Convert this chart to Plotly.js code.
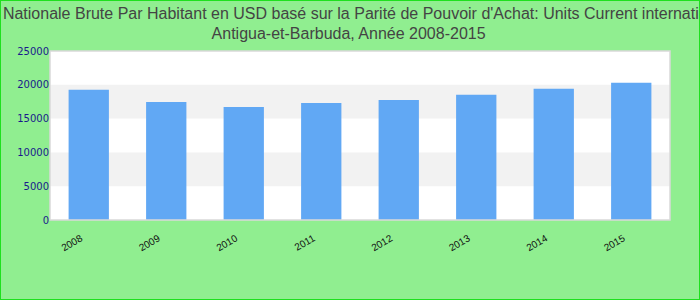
<!DOCTYPE html>
<html><head><meta charset="utf-8">
<script src="https://cdn.plot.ly/plotly-3.0.1.min.js"></script>
<style>
html,body{margin:0;padding:0;background:#90EE90;}
#wrap{width:698px;height:298px;border:1px solid #1ee01e;position:relative;overflow:hidden;}
#chart{width:700px;height:300px;position:absolute;left:-1px;top:-1px;}
</style></head><body>
<div id="wrap"><div id="chart"></div></div>
<script>
const years = ['2008','2009','2010','2011','2012','2013','2014','2015'];
const values = [19250, 17460, 16720, 17310, 17760, 18510, 19400, 20300];
const yTicks = [0, 5000, 10000, 15000, 20000, 25000];
const bands = [[5000,10000],[15000,20000]];

const shapes = bands.map(b => ({type:'rect', xref:'x domain', yref:'y', x0:0, x1:1, y0:b[0], y1:b[1],
  fillcolor:'#f2f2f2', line:{width:0}, layer:'below'}));
shapes.push({type:'rect', xref:'x domain', yref:'y domain', x0:0, x1:1, y0:0, y1:1,
  line:{color:'#d9d9d9', width:1.5}, fillcolor:'rgba(0,0,0,0)'});

Plotly.newPlot('chart', [{
  type:'bar', x:years, y:values, marker:{color:'#61a8f4'}, width:0.52, hoverinfo:'x+y'
}], {
  width:700, height:300,
  paper_bgcolor:'#90EE90', plot_bgcolor:'#ffffff',
  margin:{l:50, r:30, t:51, b:80},
  title:{text:"Production Nationale Brute Par Habitant en USD basé sur la Parité de Pouvoir d'Achat: Units Current international Dollar<br>Antigua-et-Barbuda, Année 2008-2015",
    font:{family:'Liberation Sans, Arial, sans-serif', size:16, color:'#444'}, x:0.498, y:0.938, yanchor:'middle'},
  xaxis:{type:'category', tickangle:-30, tickfont:{family:'Liberation Sans, Arial, sans-serif', size:10, color:'#111'},
    showgrid:false, zeroline:false, ticks:'', ticklabelstandoff:10, ticklabelshift:-8},
  yaxis:{range:[0,25000], tickvals:yTicks, tickformat:'d', showgrid:false, zeroline:false,
    tickfont:{family:'DejaVu Sans, sans-serif', size:10, color:'#1a1a8c'}},
  shapes:shapes, showlegend:false
}, {displayModeBar:false});
</script></body></html>
